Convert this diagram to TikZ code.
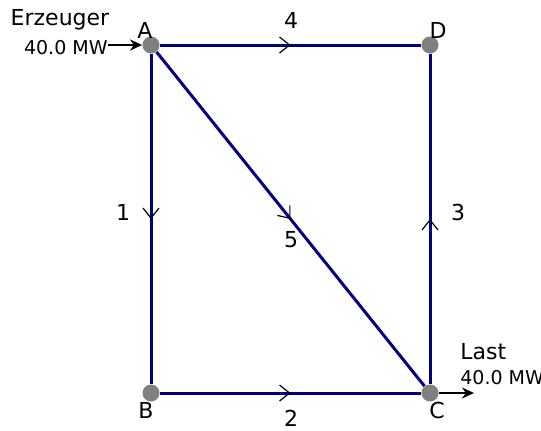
\documentclass[tikz,border=0pt]{standalone}
\usepackage{fontspec}
\setmainfont{DejaVu Sans}
\usetikzlibrary{arrows.meta,decorations.markings}
\tikzset{
  bus/.style    ={circle, fill=black!50, inner sep=0pt, minimum size=8.5pt},
  line/.style   ={draw=blue!50!black, line width=1.5pt,
                  postaction={decorate, decoration={markings,
                  mark=at position 0.5 with {\arrow[black, line width=0.6pt]{Straight Barb[length=5pt,width=8pt]}}}}},
  feed/.style   ={-{Stealth[length=6pt,width=5.5pt]}, draw=black, line width=1pt},
  lbl/.style    ={font=\fontsize{11}{13}\selectfont, inner sep=1pt},
  mw/.style     ={font=\fontsize{9.5}{11}\selectfont, inner sep=1pt}
}
\begin{document}
\begin{tikzpicture}[x=0.5pt,y=-0.5pt]
\useasboundingbox (0,0) rectangle (541,430);
%% buses
\node[bus] (A) at (151,45)  {};
\node[bus] (D) at (430,45)  {};
\node[bus] (B) at (151,393) {};
\node[bus] (C) at (430,393) {};
\node[lbl] at (145,30)  {A};
\node[lbl] at (438,30)  {D};
\node[lbl] at (146,410) {B};
\node[lbl] at (437,410) {C};

%% lines
\draw[line] (A) -- (B);
\draw[line] (B) -- (C);
\draw[line] (C) -- (D);
\draw[line] (A) -- (D);
\draw[line] (A) -- (C);
\node[lbl] at (123,212) {1};
\node[lbl] at (291,418) {2};
\node[lbl] at (458,212) {3};
\node[lbl] at (291,20)  {4};
\node[lbl] at (291,240) {5};

%% generator and load
\coordinate (src)  at (108,45);
\coordinate (sink) at (474,393);
\draw[feed] (src) -- (A);
\draw[feed] (C) -- (sink);
\node[lbl] (gen)  at (60,20) {Erzeuger};
\node[mw, anchor=east] at (110,48) {40.0 MW};
\node[lbl, anchor=west] (load) at (458,352) {Last};
\node[mw, anchor=west] at (458,378) {40.0 MW};
\end{tikzpicture}
\end{document}
